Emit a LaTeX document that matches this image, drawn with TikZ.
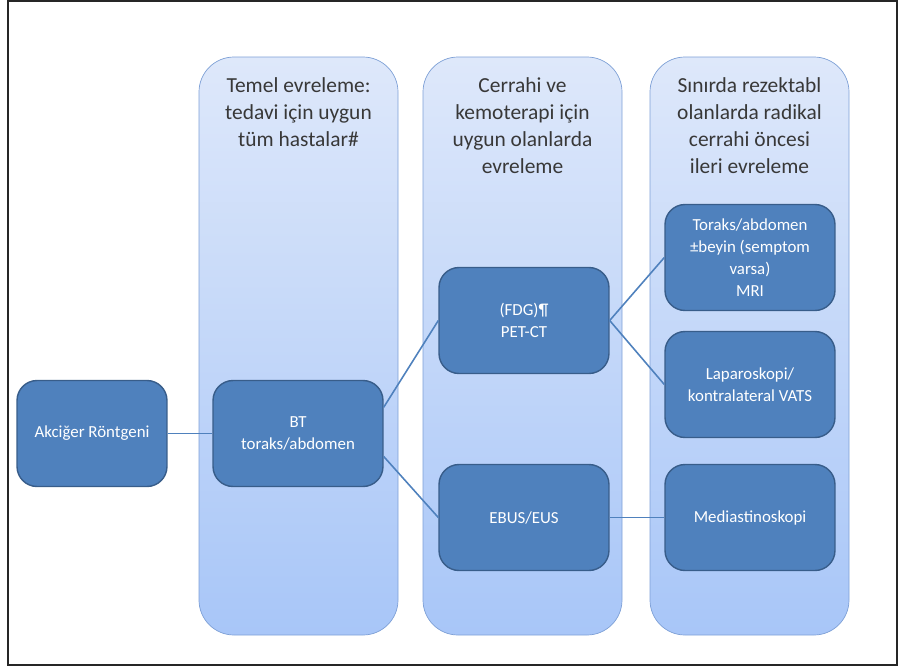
\documentclass[tikz,border=0pt]{standalone}
\usepackage{fontspec}
\setmainfont{Carlito}
\usepackage{tikz}

\definecolor{colline}{RGB}{126,160,214}
\definecolor{coltop}{RGB}{222,232,250}
\definecolor{colbot}{RGB}{168,198,248}
\definecolor{boxfill}{RGB}{79,129,189}
\definecolor{boxline}{RGB}{56,93,138}
\definecolor{linkcol}{RGB}{79,129,189}

\tikzset{
    stage/.style={draw=boxline, fill=boxfill, thick, rounded corners=0.4cm,
        minimum width=3.4cm, minimum height=2.12cm, text=white, align=center,
        font=\fontsize{9.6}{12.5}\selectfont},
    header/.style={anchor=north, align=center, text=black!78,
        font=\fontsize{12.2}{15.4}\selectfont},
    link/.style={linkcol, line width=0.9pt}
}

\begin{document}
\begin{tikzpicture}[x=0.02cm, y=-0.02cm]
\useasboundingbox (0,0) rectangle (900,670);
\draw[line width=1.2pt, black!85] (8,1) rectangle (897,665);

% columns
\foreach \x/\name/\txt in {199/hdra/{Temel evreleme:\\tedavi için uygun\\tüm hastalar\#},
    423/hdrb/{Cerrahi ve\\kemoterapi için\\uygun olanlarda\\evreleme},
    650/hdrc/{Sınırda rezektabl\\olanlarda radikal\\cerrahi öncesi\\ileri evreleme}}
{
    \draw[draw=colline, top color=coltop, bottom color=colbot, rounded corners=0.7cm] (\x,57) rectangle (\x+199,635);
    \node[header] (\name) at (\x+99.5,71) {\txt};
}

% nodes
\node[stage, minimum width=3cm] (xray) at (92,433.5) {Akciğer Röntgeni};
\node[stage] (bt) at (298,433.5) {BT\\toraks/abdomen};
\node[stage] (petct) at (524,320.5) {(FDG)¶\\PET-CT};
\node[stage] (ebus) at (524,517.5) {EBUS/EUS};
\node[stage] (mri) at (750,257.5) {Toraks/abdomen\\±beyin (semptom\\varsa)\\MRI};
\node[stage] (lapvats) at (750,384.5) {Laparoskopi/\\kontralateral VATS};
\node[stage] (medias) at (750,517.5) {Mediastinoskopi};

% links
\draw[link] (xray) -- (bt);
\draw[link] (bt.17) -- (petct.west);
\draw[link] (bt.-15) -- (ebus.west);
\draw[link] (petct.east) -- (mri.west);
\draw[link] (petct.east) -- (lapvats.west);
\draw[link] (ebus) -- (medias);

\end{tikzpicture}
\end{document}
